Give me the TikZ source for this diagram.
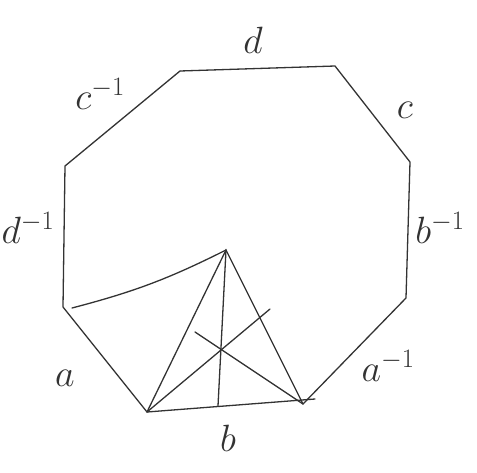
\RequirePackage{fix-cm}
\documentclass[tikz,border=0pt]{standalone}
\usepackage{amsmath,amssymb}
\usepackage{tikz}
\usetikzlibrary{positioning, calc}

\tikzset{
    edge/.style={line width=1.3pt, draw=black!80, line cap=round},
    lbl/.style={font=\fontsize{38}{42}\selectfont, text=black!80, inner sep=0pt}
}

\begin{document}
\begin{tikzpicture}[x=1pt,y=-1pt]
        \useasboundingbox (0,0) rectangle (477,472);

        % Octagon corners
        \coordinate (tl) at (180,71);
        \coordinate (tr) at (335,66);
        \coordinate (ru) at (410,162);
        \coordinate (rl) at (406,298);
        \coordinate (br) at (303,404);
        \coordinate (bl) at (147,412);
        \coordinate (ll) at (63,307);
        \coordinate (lu) at (65,166);

        % Octagon sides
        \draw[edge] (tl) -- (tr) -- (ru) -- (rl) -- (br);
        \draw[edge] (bl) -- (ll) -- (lu) -- (tl);

        % Triangle
        \coordinate (apex) at (226,250);
        \coordinate (baseend) at (315,399);
        \coordinate (foot) at (218,406);
        \coordinate (mr) at (270,309);
        \coordinate (ml) at (195,332);
        \coordinate (cs) at (72,308);
        \draw[edge] (bl) -- (apex) -- (br);
        \draw[edge] (bl) -- (baseend);
        \draw[edge] (apex) -- (foot);
        \draw[edge] (bl) -- (mr);
        \draw[edge] (br) -- (ml);
        \draw[edge] (cs) to[bend right=6] (apex);

        % Side labels
        \node[lbl] (d) at (253,40) {$d$};
        \node[lbl] (cinv) at (100,94) {$c^{-1}$};
        \node[lbl] (c) at (405,110) {$c$};
        \node[lbl] (dinv) at (28,228) {$d^{-1}$};
        \node[lbl] (binv) at (440,228) {$b^{-1}$};
        \node[lbl] (a) at (65,378) {$a$};
        \node[lbl] (ainv) at (388,366) {$a^{-1}$};
        \node[lbl] (b) at (228,438) {$b$};
\end{tikzpicture}
\end{document}
